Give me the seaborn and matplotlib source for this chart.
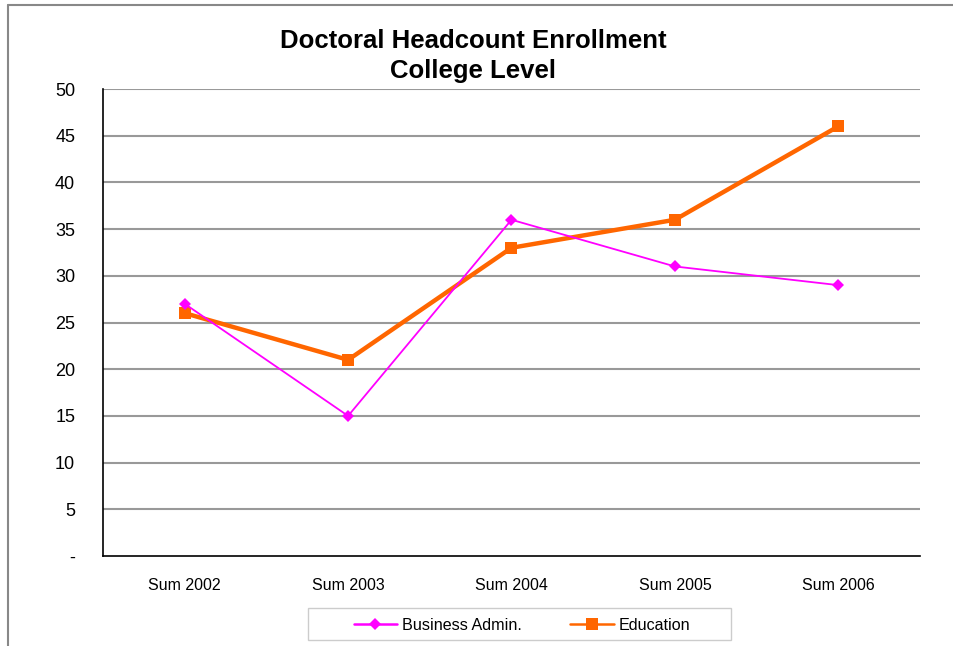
import numpy as np
import pandas as pd
import matplotlib
matplotlib.use("Agg")
import matplotlib.pyplot as plt
from matplotlib.lines import Line2D
from matplotlib.patches import Rectangle
import seaborn as sns

# chart data
terms = ["Sum 2002", "Sum 2003", "Sum 2004", "Sum 2005", "Sum 2006"]
business_admin = [27, 15, 36, 31, 29]
education = [26, 21, 33, 36, 46]
y_ticks = [0, 5, 10, 15, 20, 25, 30, 35, 40, 45, 50]
y_labels = ["-", "5", "10", "15", "20", "25", "30", "35", "40", "45", "50"]

sns.set_style("white")
plt.rcParams["font.family"] = ["Liberation Sans", "DejaVu Sans"]
plt.rcParams["text.color"] = "black"
plt.rcParams["xtick.labelcolor"] = "black"
plt.rcParams["ytick.labelcolor"] = "black"

df = pd.DataFrame({
    "pos": list(range(len(terms))) * 2,
    "value": business_admin + education,
    "series": ["Business Admin."] * len(terms) + ["Education"] * len(terms),
})

fig = plt.figure(figsize=(9.54, 6.46), dpi=100)
ax = fig.add_axes([103 / 954, 1 - 556 / 646, 817 / 954, 467 / 646])

sns.lineplot(data=df[df.series == "Business Admin."], x="pos", y="value",
             color="#FF00FF", lw=1.3, marker="D", markersize=6.5,
             markeredgewidth=0, ax=ax, label="Business Admin.", zorder=4)
sns.lineplot(data=df[df.series == "Education"], x="pos", y="value",
             color="#FF6600", lw=3.2, marker="s", markersize=8.5,
             markeredgewidth=0, ax=ax, label="Education", zorder=3)

ax.set_xlim(-0.5, len(terms) - 0.5)
ax.set_ylim(0, 50)
ax.set_yticks(y_ticks)
ax.set_yticklabels(y_labels, fontsize=13)
ax.set_xticks(range(len(terms)))
ax.set_xticklabels(terms, fontsize=11.5)
ax.set_xticks(np.arange(-0.5, len(terms), 1), minor=True)
ax.tick_params(axis="x", which="major", length=0, pad=16)
ax.tick_params(axis="x", which="minor", length=5, color="#bbbbbb", direction="out")
ax.tick_params(axis="y", length=6, color="#999999", direction="out", pad=14)
ax.set_xlabel("")
ax.set_ylabel("")

for y in y_ticks[1:]:
    ax.axhline(y, color="#999999", lw=1.5, zorder=1)

for side in ["top", "right"]:
    ax.spines[side].set_visible(False)
for side in ["left", "bottom"]:
    ax.spines[side].set_color("black")
    ax.spines[side].set_linewidth(1.2)

fig.text(473 / 954, 1 - 56 / 646, "Doctoral Headcount Enrollment\nCollege Level",
         ha="center", va="center", fontsize=18.5, fontweight="bold",
         linespacing=1.35)

leg = ax.legend(loc="center", bbox_to_anchor=(522 / 954, 1 - 625 / 646),
                bbox_transform=fig.transFigure, ncol=2, fontsize=11.6,
                frameon=False, handlelength=2.7, columnspacing=3.0,
                handletextpad=0.3)
for line in leg.get_lines():
    line.set_linewidth(1.8)

# legend box
fig.add_artist(Rectangle((308 / 954, 1 - 640 / 646), 423 / 954, 32 / 646,
                         transform=fig.transFigure, fill=False,
                         edgecolor="#cccccc", lw=1))

# outer chart border
fig.add_artist(Line2D([8 / 954, 8 / 954], [0, 1 - 5 / 646], color="#888888", lw=1.5))
fig.add_artist(Line2D([8 / 954, 1], [1 - 5 / 646, 1 - 5 / 646], color="#888888", lw=1.5))

fig.savefig("out.png", dpi=100)
